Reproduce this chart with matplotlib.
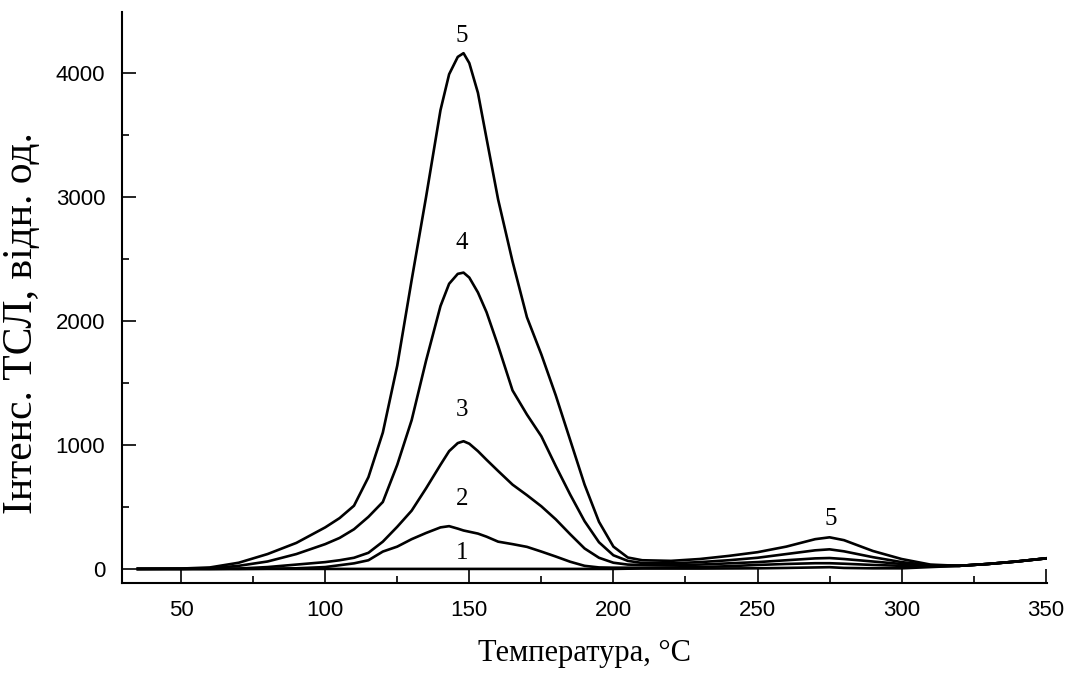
import numpy as np
import matplotlib
matplotlib.use('Agg')
import matplotlib.pyplot as plt
from matplotlib.ticker import MultipleLocator

# *****************************************************************************

temp = [35, 50, 60, 70, 80, 90, 100, 105, 110, 115, 120, 125, 130, 135, 140,
        143, 146, 148, 150, 153, 156, 160, 165, 170, 175, 180, 185, 190, 195,
        200, 205, 210, 220, 230, 240, 250, 260, 270, 275, 280, 290, 300, 310,
        320, 330, 340, 350]

curve5 = [0, 3, 12, 50, 120, 210, 335, 410, 510, 740, 1100, 1640, 2330, 3000,
          3700, 3990, 4130, 4160, 4080, 3840, 3470, 2980, 2480, 2030, 1730,
          1400, 1040, 680, 380, 180, 92, 70, 65, 80, 105, 135, 180, 240, 255,
          232, 145, 80, 35, 25, 40, 60, 85]

curve4 = [0, 0, 5, 25, 60, 120, 200, 250, 320, 420, 540, 840, 1200, 1680,
          2120, 2300, 2380, 2390, 2350, 2230, 2070, 1800, 1440, 1245, 1070,
          830, 600, 385, 215, 110, 65, 48, 45, 55, 70, 90, 120, 150, 158, 142,
          95, 55, 30, 25, 40, 60, 85]

curve3 = [0, 0, 0, 3, 15, 35, 55, 70, 90, 130, 220, 340, 470, 650, 840, 950,
          1015, 1030, 1010, 950, 880, 790, 680, 595, 505, 400, 280, 165, 90,
          50, 35, 32, 30, 35, 45, 55, 70, 85, 88, 80, 60, 40, 25, 25, 40, 60,
          85]

curve2 = [0, 0, 0, 0, 2, 5, 15, 30, 45, 70, 140, 180, 240, 290, 335, 345,
          325, 310, 300, 285, 260, 220, 200, 178, 140, 100, 58, 25, 12, 10,
          10, 10, 12, 15, 22, 32, 40, 46, 46, 42, 32, 25, 20, 25, 40, 60, 85]

curve1 = [0, 0, 0, 0, 0, 0, 0, 0, 0, 0, 0, 0, 0, 0, 0, 0, 0, 0, 0, 0, 0, 0,
          0, 0, 0, 0, 0, 0, 0, 0, 2, 3, 3, 3, 4, 5, 8, 12, 14, 8, 5, 5, 15,
          25, 40, 60, 85]

curve_labels = ['1', '2', '3', '4', '5', '5']
label_x = [147.5, 147.5, 147.5, 147.5, 147.5, 275.5]
label_y = [130, 560, 1280, 2630, 4300, 400]

# *****************************************************************************


def make_fig():

    fig01 = plt.figure(figsize=(10.74, 6.81), dpi=100)
    axs01 = fig01.add_axes([0.1136, 0.144, 0.8614, 0.838])

    for vals in [curve1, curve2, curve3, curve4, curve5]:
        axs01.plot(temp, vals, color='black', linewidth=1.9,
                   solid_joinstyle='round')

    for txt, xv, yv in zip(curve_labels, label_x, label_y):
        axs01.text(xv, yv, txt, ha='center', va='center', fontsize=18,
                   family='Liberation Serif')

    axs01.set_xlim(29.5, 350.5)
    axs01.set_ylim(-113, 4490)

    axs01.spines['top'].set_visible(False)
    axs01.spines['right'].set_visible(False)
    axs01.spines['left'].set_linewidth(1.5)
    axs01.spines['bottom'].set_linewidth(1.5)

    axs01.xaxis.set_major_locator(MultipleLocator(50))
    axs01.xaxis.set_minor_locator(MultipleLocator(25))
    axs01.yaxis.set_major_locator(MultipleLocator(1000))
    axs01.yaxis.set_minor_locator(MultipleLocator(500))
    axs01.tick_params(which='major', direction='in', length=10, width=1.2,
                      labelsize=16, pad=12)
    axs01.tick_params(which='minor', direction='in', length=5, width=1.2)
    for lab in axs01.get_xticklabels() + axs01.get_yticklabels():
        lab.set_family('Liberation Sans')

    axs01.set_xlabel('Температура, °C', fontsize=22,
                     family='Liberation Serif', labelpad=13)
    axs01.set_ylabel('Інтенс. ТСЛ, відн. од.', fontsize=30,
                     family='Liberation Serif', labelpad=12)
    axs01.yaxis.set_label_coords(-0.088, 0.455)

    plt.savefig('out.png', dpi=100)
    plt.close()

    return None

# *****************************************************************************


if (__name__ == "__main__"):

    make_fig()

# *****************************************************************************
